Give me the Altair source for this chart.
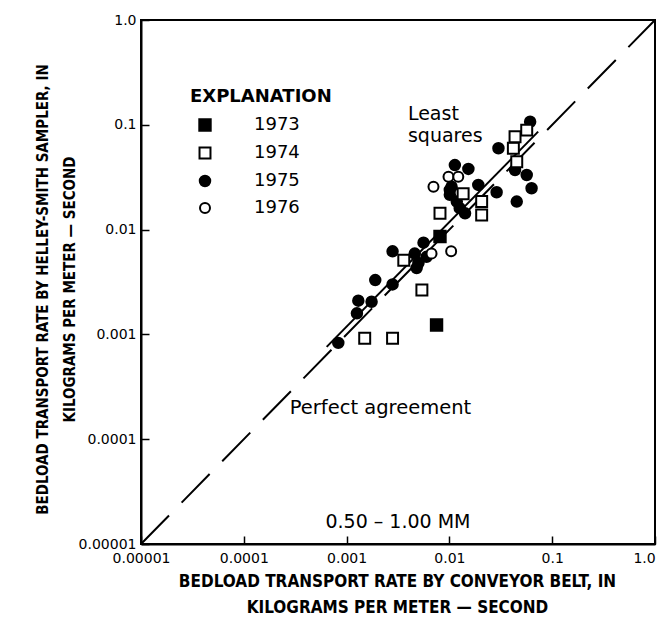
import json
import altair as alt
import pandas as pd

# ---- axis ticks ----
tick_values = [0.00001, 0.0001, 0.001, 0.01, 0.1, 1.0]
tick_labels = ["0.00001", "0.0001", "0.001", "0.01", "0.1", "1.0"]

# ---- data (kg per meter-second) ----
years = ["1973", "1974", "1975", "1976"]

x1973 = [0.0075, 0.0081]
y1973 = [0.00123, 0.0086]

x1974 = [0.0015, 0.0028, 0.0054, 0.0036, 0.0081, 0.0136, 0.0206, 0.0206, 0.0452, 0.0419, 0.0435, 0.0565]
y1974 = [0.00092, 0.00092, 0.00265, 0.0051, 0.0143, 0.022, 0.0185, 0.0138, 0.0445, 0.0597, 0.077, 0.089]

x1975 = [0.00083, 0.00126, 0.0013, 0.00175, 0.0019, 0.0028, 0.0028, 0.0046, 0.0056, 0.0050,
         0.0060, 0.0048, 0.0101, 0.0105, 0.0101, 0.0113, 0.0118, 0.0126, 0.0142, 0.0153,
         0.0191, 0.0288, 0.0300, 0.0435, 0.0452, 0.0565, 0.0630, 0.0610]
y1975 = [0.00083, 0.00159, 0.0021, 0.00205, 0.0033, 0.0030, 0.0062, 0.0059, 0.0075, 0.0048,
         0.0055, 0.0043, 0.0239, 0.0257, 0.0215, 0.0413, 0.0185, 0.0160, 0.0143, 0.0379,
         0.0267, 0.0227, 0.0597, 0.0370, 0.0185, 0.0332, 0.0248, 0.107]

x1976 = [0.0070, 0.0098, 0.0122, 0.0067, 0.0104]
y1976 = [0.0257, 0.032, 0.032, 0.0059, 0.0062]

perfect_x = [0.00001, 1.0]
perfect_y = [0.00001, 1.0]

ls_x = [0.00064, 0.073]
ls_y = [0.00076, 0.086]

# ---- tables ----
rows = []
draw = 0
for yr, xs, ys in [("1975", x1975, y1975), ("1973", x1973, y1973),
                   ("1974", x1974, y1974), ("1976", x1976, y1976)]:
    for a, b in zip(xs, ys):
        rows.append({"x": a, "y": b, "year": yr, "draw": draw})
        draw += 1
pts = pd.DataFrame(rows)
perfect_df = pd.DataFrame({"x": perfect_x, "y": perfect_y})
ls_df = pd.DataFrame({"x": ls_x, "y": ls_y})

TICK_FONT = "DejaVu Sans"
TITLE_FONT = "Liberation Sans Narrow, DejaVu Sans Condensed, DejaVu Sans"
TEXT_FONT = "DejaVu Sans"

label_expr = f"{json.dumps(tick_labels)}[indexof({json.dumps(tick_values)}, datum.value)]"

xscale = alt.Scale(type="log", domain=[0.00001, 1.0], nice=False)
yscale = alt.Scale(type="log", domain=[0.00001, 1.0], nice=False)

xaxis = alt.Axis(
    values=tick_values, labelExpr=label_expr, labelFlush=False,
    tickSize=alt.ExprRef(expr="-8"), labelPadding=15,
    labelOffset={"condition": {"test": "datum.value == 1", "value": -11}, "value": 0},
    title=["BEDLOAD TRANSPORT RATE BY CONVEYOR BELT, IN", "KILOGRAMS PER METER \u2014 SECOND"],
    titleFontSize=17, titleLineHeight=26,
    titleX=256, titleY=29, titleBaseline="top", titleAlign="center",
)
yaxis = alt.Axis(
    values=tick_values, labelExpr=label_expr, labelFlush=False,
    tickSize=alt.ExprRef(expr="-8"), labelPadding=13,
    title=["BEDLOAD TRANSPORT RATE BY HELLEY-SMITH SAMPLER, IN", "KILOGRAMS PER METER \u2014 SECOND"],
    titleFontSize=15, titleLineHeight=27,
    titleX=-106, titleY=269, titleBaseline="top", titleAlign="center", titleAngle=270,
)

legend = alt.Legend(
    orient="none", legendX=49, legendY=68, padding=0,
    title="EXPLANATION", titleFont=TEXT_FONT, titleFontSize=18, titleFontWeight="bold",
    titleColor="black", titlePadding=10,
    labelFont=TEXT_FONT, labelFontSize=18, labelColor="black", labelOffset=40,
    symbolOffset=6, rowPadding=8, symbolStrokeColor="black", symbolStrokeWidth=2,
)

points = alt.Chart(pts).mark_point(filled=True, stroke="black", strokeWidth=2, opacity=1).encode(
    x=alt.X("x:Q", scale=xscale, axis=xaxis),
    y=alt.Y("y:Q", scale=yscale, axis=yaxis),
    shape=alt.Shape("year:O", scale=alt.Scale(domain=years, range=["square", "square", "circle", "circle"]), legend=legend),
    fill=alt.Fill("year:O", scale=alt.Scale(domain=years, range=["black", "white", "black", "white"]), legend=legend),
    stroke=alt.Stroke("year:O", scale=alt.Scale(domain=years, range=["black", "black", "black", "black"]), legend=legend),
    size=alt.Size("year:O", scale=alt.Scale(domain=years, range=[130, 100, 140, 105]), legend=legend),
    order=alt.Order("draw:Q"),
)

perfect = alt.Chart(perfect_df).mark_line(color="black", strokeWidth=2, strokeDash=[40, 18]).encode(
    x=alt.X("x:Q", scale=xscale), y=alt.Y("y:Q", scale=yscale)
)
least = alt.Chart(ls_df).mark_line(color="black", strokeWidth=2).encode(
    x=alt.X("x:Q", scale=xscale), y=alt.Y("y:Q", scale=yscale)
)

def label(text, xv, yv, align, size=19):
    return alt.Chart(pd.DataFrame({"t": [text]})).mark_text(
        align=align, baseline="middle", font=TEXT_FONT, fontSize=size, color="black"
    ).encode(x=alt.datum(xv), y=alt.datum(yv), text="t:N")

t1 = label("Least", 0.00395, 0.127, "left")
t2 = label("squares", 0.00395, 0.078, "left")
t3 = label("Perfect agreement", 0.00028, 0.000199, "left", 19.5)
t4 = label("0.50 \u2013 1.00 MM", 0.00316, 0.0000162, "center")

chart = alt.layer(perfect, least, points, t1, t2, t3, t4).properties(
    width=514, height=524,
    autosize=alt.AutoSizeParams(type="none"),
    padding={"left": 133, "top": 12, "right": 3, "bottom": 74},
).configure_view(
    stroke="black", strokeWidth=2
).configure_axis(
    grid=False, domainColor="black", domainWidth=2, tickColor="black", tickWidth=1.5,
    labelFont=TICK_FONT, labelFontSize=14, labelColor="black",
    titleFont=TITLE_FONT, titleFontWeight="bold", titleColor="black",
)

chart.save("out.html", embed_options={"renderer": "svg", "actions": False})
